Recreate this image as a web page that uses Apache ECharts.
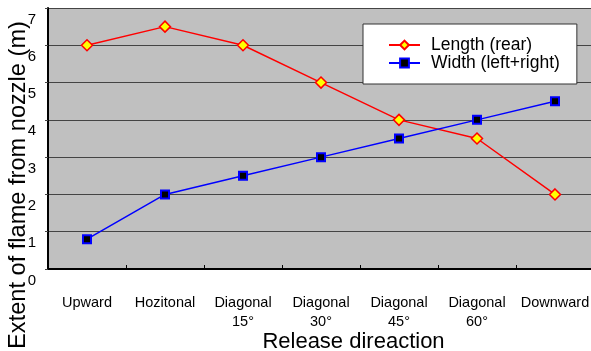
<!DOCTYPE html>
<html>
<head>
<meta charset="utf-8">
<script src="https://cdn.jsdelivr.net/npm/echarts@6/dist/echarts.min.js"></script>
<style>html,body{margin:0;padding:0;background:#fff;}#c{width:591px;height:351px;}</style>
</head>
<body>
<div id="c"></div>
<script>
var categories = ['Upward', 'Hozitonal', 'Diagonal\n15°', 'Diagonal\n30°', 'Diagonal\n45°', 'Diagonal\n60°', 'Downward'];
var lengthRear = [6.0, 6.5, 6.0, 5.0, 4.0, 3.5, 2.0];
var widthLR = [0.8, 2.0, 2.5, 3.0, 3.5, 4.0, 4.5];
var yMin = 0, yMax = 7, yStep = 1;

var FONT = '"Liberation Sans", Arial, sans-serif';
var chart = echarts.init(document.getElementById('c'));
chart.setOption({
  animation: false,
  backgroundColor: '#ffffff',
  grid: {
    left: 48, top: 8, width: 546, height: 261,
    show: true, backgroundColor: '#c0c0c0', borderWidth: 0,
    outerBoundsMode: 'none', containLabel: false
  },
  legend: {
    orient: 'vertical',
    left: 363, top: 24,
    backgroundColor: '#ffffff',
    borderColor: '#333333', borderWidth: 1,
    padding: [12, 17, 12, 25],
    itemWidth: 31, itemHeight: 11, itemGap: 0,
    textStyle: { fontFamily: FONT, fontSize: 17.5, color: '#000', lineHeight: 17, padding: [0, 0, 0, 6] },
    data: ['Length (rear)', 'Width (left+right)']
  },
  xAxis: {
    type: 'category',
    data: categories,
    boundaryGap: true,
    name: 'Release direaction',
    nameLocation: 'middle',
    nameGap: 62,
    nameMoveOverlap: false,
    nameTextStyle: { fontFamily: FONT, fontSize: 22, color: '#000', padding: [0, 0, 0, 65] },
    axisLine: { lineStyle: { color: '#000', width: 2 } },
    axisTick: { show: true, inside: true, length: 4, lineStyle: { color: '#000' } },
    axisLabel: { interval: 0, fontFamily: FONT, fontSize: 14.5, lineHeight: 19, color: '#000', margin: 24 },
    splitLine: { show: false }
  },
  yAxis: {
    type: 'value',
    min: yMin, max: yMax, interval: yStep,
    name: 'Extent of flame from nozzle (m)',
    nameLocation: 'middle',
    nameGap: 18,
    nameMoveOverlap: false,
    nameRotate: 90,
    nameTextStyle: { fontFamily: FONT, fontSize: 23.6, color: '#000', padding: [0, 93, 0, 0] },
    axisLine: { show: true, lineStyle: { color: '#000', width: 2 } },
    axisTick: { show: true, length: 3, lineStyle: { color: '#444' } },
    axisLabel: { fontFamily: FONT, fontSize: 15, color: '#000', margin: 12, verticalAlign: 'top', padding: [4, 0, 0, 0] },
    splitLine: { show: true, lineStyle: { color: '#444444', width: 1.2 } }
  },
  series: [
    {
      name: 'Length (rear)',
      type: 'line',
      data: lengthRear,
      symbol: 'diamond',
      symbolSize: 11,
      lineStyle: { color: '#ff0000', width: 1.5 },
      itemStyle: { color: '#ffff00', borderColor: '#ff0000', borderWidth: 1.5 },
      z: 3
    },
    {
      name: 'Width (left+right)',
      type: 'line',
      data: widthLR,
      symbol: 'rect',
      symbolSize: 8,
      lineStyle: { color: '#0000ff', width: 1.5 },
      itemStyle: { color: '#000000', borderColor: '#0000ff', borderWidth: 2 },
      z: 4
    }
  ]
});
</script>
</body>
</html>
